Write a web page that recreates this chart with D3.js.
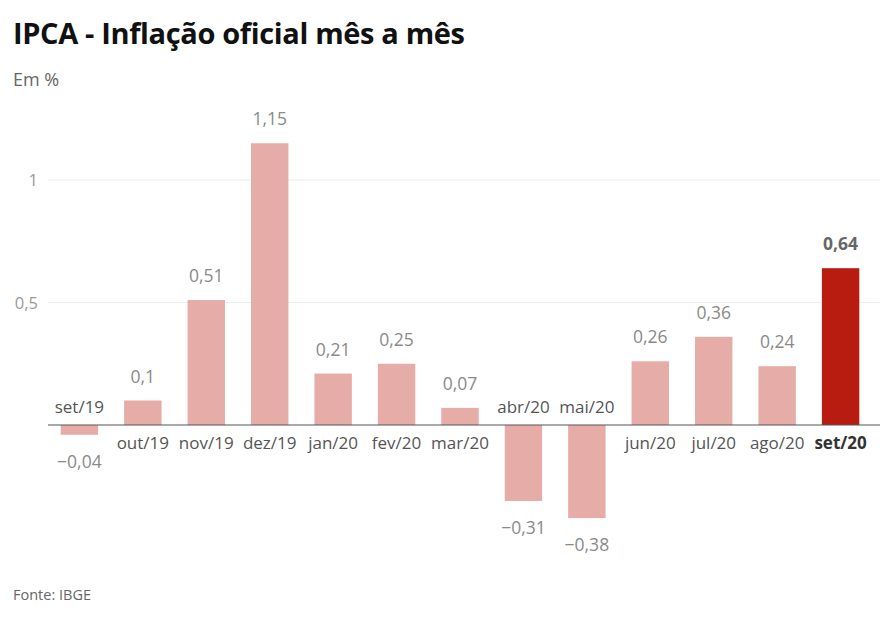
<!DOCTYPE html>
<html><head><meta charset="utf-8">
<script src="https://cdn.jsdelivr.net/npm/d3@7"></script>
<style>body{margin:0;background:#fff;}svg{display:block;font-family:"Open Sans",sans-serif;}</style>
</head><body><svg id="c" width="884" height="630"></svg>
<script>
const categories = ["set/19","out/19","nov/19","dez/19","jan/20","fev/20","mar/20","abr/20","mai/20","jun/20","jul/20","ago/20","set/20"];
const values = [-0.04,0.10,0.51,1.15,0.21,0.25,0.07,-0.31,-0.38,0.26,0.36,0.24,0.64];
const labels = ["\u22120,04","0,1","0,51","1,15","0,21","0,25","0,07","\u22120,31","\u22120,38","0,26","0,36","0,24","0,64"];
const yTicks = [0.5, 1];
const yTickLabels = ["0,5","1"];
const highlight = "set/20";

const svg = d3.select("#c");
const x = d3.scaleBand().domain(categories).range([48, 872]).paddingInner(0.41).paddingOuter(0.2);
const y = d3.scaleLinear().domain([0, 1]).range([425, 180]);

svg.append("text").attr("x", 13).attr("y", 44).attr("font-size", 29).attr("font-weight", 700)
  .attr("fill", "#111").attr("letter-spacing", -0.35).text("IPCA - Inflação oficial mês a mês");
svg.append("text").attr("x", 13).attr("y", 86).attr("font-size", 18).attr("fill", "#666").text("Em %");
svg.append("text").attr("x", 13).attr("y", 600).attr("font-size", 14.5).attr("fill", "#666").text("Fonte: IBGE");

// gridlines
const g = svg.append("g");
yTicks.forEach((t, i) => {
  g.append("line").attr("x1", 48).attr("x2", 880).attr("y1", y(t)).attr("y2", y(t))
    .attr("stroke", "#ececec").attr("stroke-width", 1);
  g.append("text").attr("x", 38).attr("y", y(t) + 6).attr("text-anchor", "end")
    .attr("font-size", 16.5).attr("fill", "#999").text(yTickLabels[i]);
});

const data = categories.map((c, i) => ({c, v: values[i], l: labels[i]}));
svg.append("g").selectAll("rect").data(data).join("rect")
  .attr("x", d => x(d.c)).attr("width", x.bandwidth())
  .attr("y", d => y(Math.max(0, d.v))).attr("height", d => Math.abs(y(d.v) - y(0)))
  .attr("fill", d => d.c === highlight ? "#b81c10" : "#e6aca8");

svg.append("line").attr("x1", 48).attr("x2", 880).attr("y1", y(0)).attr("y2", y(0))
  .attr("stroke", "#555").attr("stroke-width", 1.2);

// value labels
svg.append("g").selectAll("text").data(data).join("text")
  .attr("x", d => x(d.c) + x.bandwidth() / 2)
  .attr("y", d => d.v >= 0 ? y(d.v) - 18 : y(d.v) + 33)
  .attr("text-anchor", "middle").attr("font-size", 17.5)
  .attr("font-weight", d => d.c === highlight ? 700 : 400)
  .attr("fill", d => d.c === highlight ? "#666" : "#8a8a8a").text(d => d.l);

// category labels
svg.append("g").selectAll("text").data(data).join("text")
  .attr("x", d => x(d.c) + x.bandwidth() / 2)
  .attr("y", d => d.v >= 0 ? y(0) + 24 : y(0) - 12)
  .attr("text-anchor", "middle").attr("font-size", 17)
  .attr("font-weight", d => d.c === highlight ? 700 : 400)
  .attr("fill", d => d.c === highlight ? "#333" : "#555").text(d => d.c);
</script></body></html>
